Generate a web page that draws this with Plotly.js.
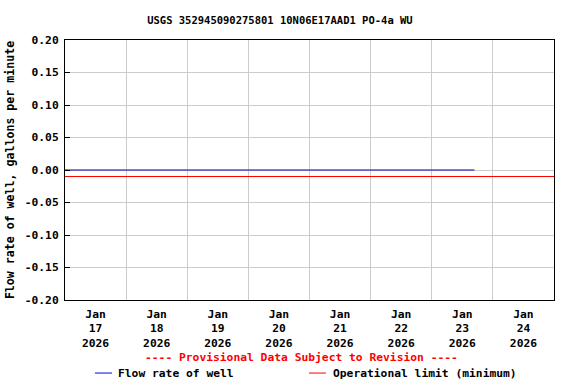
<!DOCTYPE html>
<html>
<head>
<meta charset="utf-8">
<script src="https://cdn.plot.ly/plotly-3.0.1.min.js"></script>
<style>html,body{margin:0;padding:0;background:#fff;}</style>
</head>
<body>
<div id="chart" style="width:576px;height:384px;"></div>
<script>
// Data
var flowTimes = ["2026-01-17 00:00", "2026-01-23 16:45"];
var flowValues = [0.0, 0.0];
var limitTimes = ["2026-01-17 00:00", "2026-01-25 00:00"];
var limitValues = [-0.01, -0.01];
var yTickVals = [-0.2, -0.15, -0.1, -0.05, 0, 0.05, 0.1, 0.15, 0.2];
var yTickText = ["-0.20", "-0.15", "-0.10", "-0.05", "0.00", "0.05", "0.10", "0.15", "0.20"];
var seriesNames = ["Flow rate of well", "Operational limit (minimum)"];
var seriesColors = ["#0000b0", "#ff0000"];
var legendColors = ["#0000ff", "#ff0000"];
var titleText = "USGS 352945090275801 10N06E17AAD1 PO-4a WU";
var yTitle = "Flow rate of well, gallons per minute";
var noteText = "---- Provisional Data Subject to Revision ----";

var font = {family: "DejaVu Sans Mono, monospace", size: 11.3, color: "#000", weight: "bold"};

var traces = [
  {x: flowTimes, y: flowValues, name: seriesNames[0], type: "scatter", mode: "lines",
   line: {color: seriesColors[0], width: 1.2}, showlegend: false},
  {x: limitTimes, y: limitValues, name: seriesNames[1], type: "scatter", mode: "lines",
   line: {color: seriesColors[1], width: 1.2}, showlegend: false}
];

// legend drawn as paper-positioned sample lines and labels
var legY = -0.281;
var legLineX = [[0.0613, 0.0961], [0.499, 0.5337]];
var legTextX = [0.1043, 0.544];
var shapes = [];
var annotations = [
  {text: noteText, xref: "paper", yref: "paper", x: 0.4836, y: -0.223, xanchor: "center", yanchor: "middle",
   showarrow: false, font: {family: font.family, size: 11.3, color: "#ff0000", weight: "bold"}}
];
for (var i = 0; i < seriesNames.length; i++) {
  shapes.push({type: "line", xref: "paper", yref: "paper", x0: legLineX[i][0], x1: legLineX[i][1],
               y0: legY, y1: legY, line: {color: legendColors[i], width: 1}});
  annotations.push({text: seriesNames[i], xref: "paper", yref: "paper", x: legTextX[i], y: legY,
                    xanchor: "left", yanchor: "middle", showarrow: false, font: font});
}

var layout = {
  width: 576, height: 384,
  margin: {l: 65, r: 22, t: 40, b: 84, autoexpand: false},
  paper_bgcolor: "#fff", plot_bgcolor: "#fff",
  font: font,
  showlegend: false,
  title: {text: titleText, xref: "container", x: 0.486, xanchor: "center", y: 0.948, yanchor: "middle",
          font: {family: font.family, size: 10.5, color: "#000", weight: "bold"}},
  xaxis: {
    type: "date",
    range: ["2026-01-17 00:00", "2026-01-25 00:00"],
    tick0: "2026-01-17", dtick: 86400000,
    ticklabelmode: "period",
    tickformat: "%b<br>%d<br>%Y",
    ticks: "",
    ticklabelstandoff: 3,
    showgrid: true, gridcolor: "#cccccc", gridwidth: 1,
    showline: true, linecolor: "#000", linewidth: 1, mirror: true,
    zeroline: false,
    tickfont: font
  },
  yaxis: {
    range: [-0.2, 0.2],
    tickmode: "array", tickvals: yTickVals, ticktext: yTickText,
    ticks: "inside", ticklen: 5, tickcolor: "#000",
    showgrid: true, gridcolor: "#cccccc", gridwidth: 1,
    showline: true, linecolor: "#000", linewidth: 1, mirror: true,
    zeroline: false,
    ticklabelstandoff: 3,
    tickfont: font,
    title: {text: yTitle, font: {family: font.family, size: 11.6, color: "#000", weight: "bold"}, standoff: 7}
  },
  shapes: shapes,
  annotations: annotations
};

Plotly.newPlot("chart", traces, layout, {displayModeBar: false, staticPlot: true});
</script>
</body>
</html>
